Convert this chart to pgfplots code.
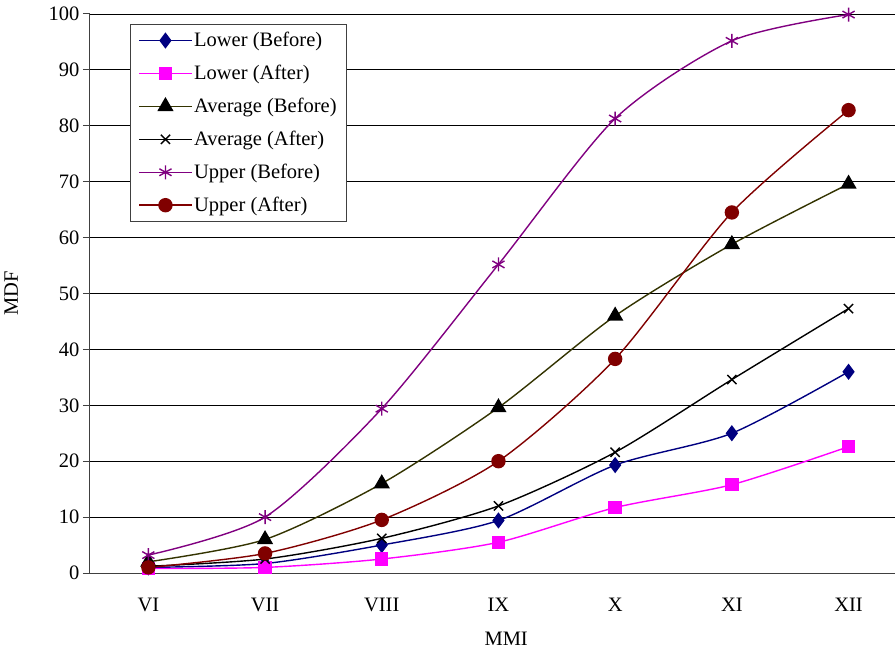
\documentclass[border=0pt]{standalone}
\usepackage{pgfplots}
\pgfplotsset{compat=1.18}
\usepackage{fontspec}
\setmainfont{Liberation Serif}
\definecolor{navyc}{RGB}{0,0,128}
\definecolor{magc}{RGB}{255,0,255}
\definecolor{olivec}{RGB}{51,51,0}
\definecolor{purplec}{RGB}{128,0,128}
\definecolor{darkredc}{RGB}{128,0,0}
\begin{document}
\begin{tikzpicture}
\begin{axis}[
    scale only axis,
    width=805pt, height=559pt,
    xmin=-0.5, xmax=6.398,
    ymin=0, ymax=100,
    ytick={0,10,...,100},
    xtick={0,...,6},
    xticklabels={VI,VII,VIII,IX,X,XI,XII},
    extra x ticks={0.5,1.5,...,5.5},
    extra x tick labels={},
    extra x tick style={grid=none, major tick length=8pt},
    axis x line*=bottom, axis y line*=left,
    axis line style={-, line width=1pt, black!75},
    major x tick style={draw=none},
    major tick length=7pt,
    every tick/.style={black!75, line width=1pt},
    ymajorgrids, grid style={black, line width=0.8pt},
    ylabel={MDF}, xlabel={MMI},
    ylabel style={at={(axis description cs:-0.085,0.5)}},
    xlabel style={at={(axis description cs:0.517,-0.13)}, anchor=base},
    font=\fontsize{20.5}{24}\selectfont,
    /pgf/number format/assume math mode=true,
    xticklabel style={yshift=-15pt},
    tick align=outside,
    legend style={at={(0.05,0.982)}, anchor=north west, draw=black!75, line width=1pt,
        font=\fontsize{20.5}{24}\selectfont, row sep=13pt, inner xsep=8pt, inner ysep=6pt,
        cells={anchor=west}},
    legend image code/.code={
        \draw[#1, line width=1.4pt, mark repeat=2, mark phase=2] plot coordinates {(0pt,0pt) (26pt,0pt) (52pt,0pt)};},
    every axis plot/.append style={line width=1.4pt, smooth, tension=0.45},
]
\addplot[navyc, mark=diamond*, mark size=7pt, mark options={fill=navyc}] coordinates {
 (0,1.0) (1,1.7) (2,5.0) (3,9.4) (4,19.3) (5,25.0) (6,36.0)};
\addlegendentry{Lower (Before)}
\addplot[magc, mark=square*, mark size=6pt, mark options={fill=magc}] coordinates {
 (0,0.8) (1,1.0) (2,2.5) (3,5.5) (4,11.7) (5,15.8) (6,22.6)};
\addlegendentry{Lower (After)}
\addplot[olivec, mark=triangle*, mark size=8pt, mark options={fill=black, draw=black}] coordinates {
 (0,2.0) (1,6.0) (2,16.0) (3,29.6) (4,46.0) (5,58.8) (6,69.6)};
\addlegendentry{Average (Before)}
\addplot[black, mark=x, mark size=6.5pt] coordinates {
 (0,1.2) (1,2.5) (2,6.2) (3,12.0) (4,21.6) (5,34.6) (6,47.3)};
\addlegendentry{Average (After)}
\addplot[purplec, mark=asterisk, mark size=7pt] coordinates {
 (0,3.2) (1,10.0) (2,29.4) (3,55.2) (4,81.3) (5,95.2) (6,99.9)};
\addlegendentry{Upper (Before)}
\addplot[darkredc, mark=*, mark size=6.5pt, mark options={fill=darkredc}] coordinates {
 (0,1.0) (1,3.5) (2,9.5) (3,20.0) (4,38.3) (5,64.5) (6,82.8)};
\addlegendentry{Upper (After)}
\end{axis}
\pgfresetboundingbox
\path[use as bounding box] ([shift={(-90pt,-78pt)}]current axis.south west) rectangle ([shift={(0pt,14pt)}]current axis.north east);
\end{tikzpicture}
\end{document}
